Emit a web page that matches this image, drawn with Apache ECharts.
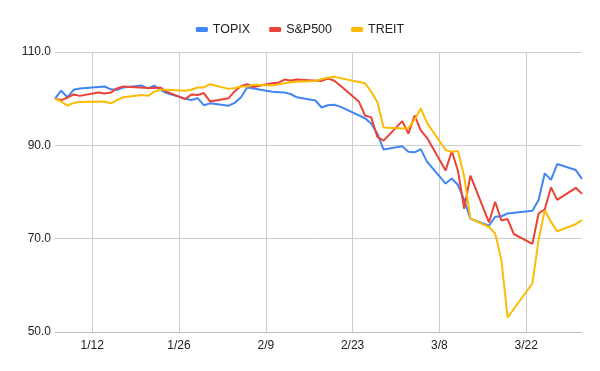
<!DOCTYPE html>
<html>
<head>
<meta charset="utf-8">
<script src="https://cdn.jsdelivr.net/npm/echarts@6/dist/echarts.min.js"></script>
<style>html,body{margin:0;padding:0;background:#fff}#chart{width:600px;height:371px}</style>
</head>
<body>
<div id="chart"></div>
<script>
const seriesNames = ['TOPIX', 'S&P500', 'TREIT'];
const xTickDates = ['2020-01-12', '2020-01-26', '2020-02-09', '2020-02-23', '2020-03-08', '2020-03-22'];
const yTicks = [50, 70, 90, 110];

const topixDates = ['2020-01-06','2020-01-07','2020-01-08','2020-01-09','2020-01-10','2020-01-14','2020-01-15','2020-01-16','2020-01-17','2020-01-20','2020-01-21','2020-01-22','2020-01-23','2020-01-24','2020-01-27','2020-01-28','2020-01-29','2020-01-30','2020-01-31','2020-02-03','2020-02-04','2020-02-05','2020-02-06','2020-02-07','2020-02-10','2020-02-12','2020-02-13','2020-02-14','2020-02-17','2020-02-18','2020-02-19','2020-02-20','2020-02-21','2020-02-25','2020-02-26','2020-02-27','2020-02-28','2020-03-02','2020-03-03','2020-03-04','2020-03-05','2020-03-06','2020-03-09','2020-03-10','2020-03-11','2020-03-12','2020-03-13','2020-03-16','2020-03-17','2020-03-18','2020-03-19','2020-03-23','2020-03-24','2020-03-25','2020-03-26','2020-03-27','2020-03-30','2020-03-31'];
const topixValues = [100.0,101.7,100.3,101.9,102.2,102.6,102.0,101.9,102.4,102.8,102.2,102.8,101.9,101.2,100.0,99.7,100.1,98.6,99.0,98.5,99.1,100.3,102.4,102.2,101.5,101.3,101.0,100.3,99.6,98.1,98.6,98.7,98.3,95.8,94.7,92.5,89.1,89.8,88.6,88.5,89.2,86.5,81.8,82.9,81.5,78.3,74.3,72.8,74.7,74.8,75.4,76.0,78.3,84.0,82.6,86.0,84.7,82.8];

const spDates = ['2020-01-06','2020-01-07','2020-01-08','2020-01-09','2020-01-10','2020-01-13','2020-01-14','2020-01-15','2020-01-16','2020-01-17','2020-01-21','2020-01-22','2020-01-23','2020-01-24','2020-01-27','2020-01-28','2020-01-29','2020-01-30','2020-01-31','2020-02-03','2020-02-04','2020-02-05','2020-02-06','2020-02-07','2020-02-10','2020-02-11','2020-02-12','2020-02-13','2020-02-14','2020-02-18','2020-02-19','2020-02-20','2020-02-21','2020-02-24','2020-02-25','2020-02-26','2020-02-27','2020-02-28','2020-03-02','2020-03-03','2020-03-04','2020-03-05','2020-03-06','2020-03-09','2020-03-10','2020-03-11','2020-03-12','2020-03-13','2020-03-16','2020-03-17','2020-03-18','2020-03-19','2020-03-20','2020-03-23','2020-03-24','2020-03-25','2020-03-26','2020-03-27','2020-03-30','2020-03-31'];
const spValues = [100.0,99.7,100.2,100.9,100.6,101.3,101.1,101.3,102.2,102.6,102.3,102.3,102.4,101.5,99.9,100.9,100.8,101.2,99.4,100.1,101.6,102.7,103.1,102.5,103.3,103.4,104.1,103.9,104.1,103.8,104.3,103.9,102.8,99.4,96.4,96.0,91.8,91.0,95.2,92.5,96.4,93.2,91.6,84.6,88.8,84.5,76.4,83.5,73.5,77.9,73.9,74.2,71.0,68.9,75.4,76.3,81.0,78.3,80.9,79.6];

const treitDates = topixDates;
const treitValues = [100.0,99.4,98.5,99.1,99.3,99.4,99.0,99.7,100.3,100.8,100.6,101.5,101.9,101.9,101.7,101.9,102.4,102.4,103.1,102.1,102.3,102.6,102.6,103.0,102.8,103.3,103.5,103.6,103.8,104.2,104.5,104.7,104.4,103.3,101.5,99.3,93.8,93.6,93.7,95.5,97.9,94.8,89.0,88.6,88.8,83.3,74.3,72.5,71.1,65.4,53.1,60.4,69.8,76.1,73.6,71.6,73.1,74.0];

function ts(s) { const p = s.split('-').map(Number); return Date.UTC(p[0], p[1] - 1, p[2]); }
function pairs(dates, vals) { return dates.map((d, i) => [ts(d), vals[i]]); }

const colors = ['#4285F4', '#EA4335', '#FBBC04'];
const font = 'Arial, "Liberation Sans", sans-serif';
const tickTs = xTickDates.map(ts);

const chart = echarts.init(document.getElementById('chart'), null, { renderer: 'canvas' });
chart.setOption({
  animation: false,
  backgroundColor: '#fff',
  color: colors,
  textStyle: { fontFamily: font },
  legend: {
    top: 18,
    left: 'center',
    icon: 'roundRect',
    itemWidth: 12,
    itemHeight: 5,
    itemGap: 19,
    textStyle: { color: '#222', fontSize: 12.5, fontFamily: font },
    data: seriesNames
  },
  grid: { left: 55, right: 18, top: 52, bottom: 39, containLabel: false },
  xAxis: {
    type: 'value',
    min: ts('2020-01-06'),
    max: ts('2020-03-31'),
    axisLine: { show: true, lineStyle: { color: '#bdbdbd' } },
    axisTick: { show: false, customValues: tickTs },
    axisLabel: {
      customValues: tickTs,
      color: '#222', fontSize: 12, margin: 8, fontFamily: font,
      formatter: v => { const d = new Date(v); return (d.getUTCMonth() + 1) + '/' + d.getUTCDate(); }
    },
    splitLine: { show: true, lineStyle: { color: '#cccccc', width: 1 } }
  },
  yAxis: {
    type: 'value',
    min: yTicks[0],
    max: yTicks[yTicks.length - 1],
    interval: 20,
    axisLine: { show: false },
    axisTick: { show: false },
    axisLabel: { color: '#222', fontSize: 12, margin: 4, fontFamily: font, formatter: v => v.toFixed(1) },
    splitLine: { show: true, lineStyle: { color: '#cccccc', width: 1 } }
  },
  series: [
    { name: seriesNames[0], type: 'line', data: pairs(topixDates, topixValues), showSymbol: false, lineStyle: { width: 2 } },
    { name: seriesNames[1], type: 'line', data: pairs(spDates, spValues), showSymbol: false, lineStyle: { width: 2 } },
    { name: seriesNames[2], type: 'line', data: pairs(treitDates, treitValues), showSymbol: false, lineStyle: { width: 2 } }
  ]
});
</script>
</body>
</html>
